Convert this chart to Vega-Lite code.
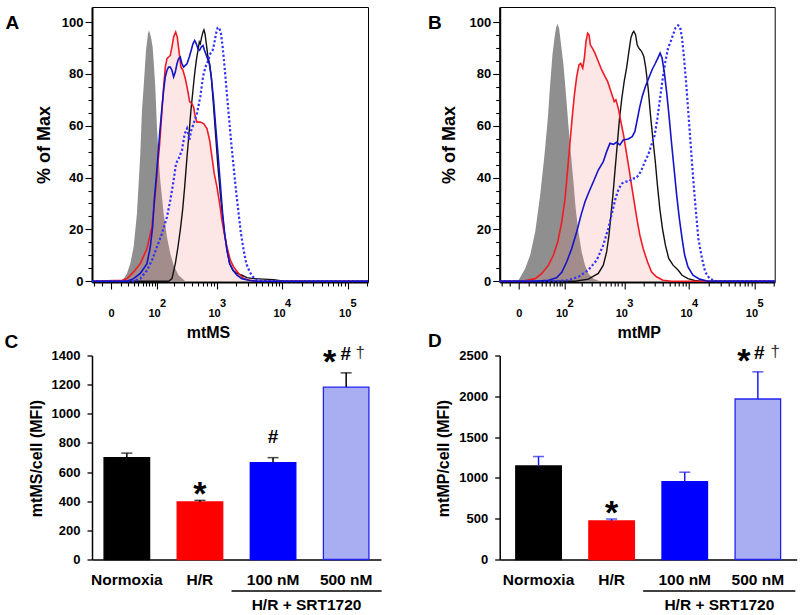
{
"$schema": "https://vega.github.io/schema/vega-lite/v6.json",
"background": "white",
"padding": {"left": 4, "top": 6, "right": 4, "bottom": 3},
"config": {
  "font": "Liberation Sans",
  "view": {"stroke": null},
  "axis": {"labelFont": "Liberation Sans", "titleFont": "Liberation Sans", "labelFontWeight": "bold", "titleFontWeight": "bold", "labelColor": "#000", "titleColor": "#000", "domainColor": "#000", "tickColor": "#000", "grid": false}
},
"columns": 2,
"bounds": "flush",
"align": "each",
"spacing": {"row": 73.5, "column": 118.7},
"datasets": {
"histA": [
{"s":"Control","x":-24,"y":0},{"s":"Control","x":9.4,"y":0},{"s":"Control","x":13.7,"y":1},{"s":"Control","x":18.5,"y":3},{"s":"Control","x":23.9,"y":6.8},{"s":"Control","x":29.9,"y":13.2},{"s":"Control","x":36.7,"y":26.1},{"s":"Control","x":44.4,"y":49.2},{"s":"Control","x":48.5,"y":65.9},{"s":"Control","x":53,"y":74.9},{"s":"Control","x":59.8,"y":89.1},{"s":"Control","x":65.8,"y":95.5},{"s":"Control","x":69.2,"y":96.8},{"s":"Control","x":75.9,"y":94.2},{"s":"Control","x":82,"y":90.4},{"s":"Control","x":85.7,"y":85.2},{"s":"Control","x":92.4,"y":74.9},{"s":"Control","x":99.5,"y":59.5},{"s":"Control","x":107,"y":47.9},{"s":"Control","x":114.9,"y":38.9},{"s":"Control","x":132.3,"y":26.1},{"s":"Control","x":151.8,"y":17.1},{"s":"Control","x":173.7,"y":10.7},{"s":"Control","x":198.3,"y":6.2},{"s":"Control","x":241,"y":2.3},{"s":"Control","x":311,"y":0},{"s":"Control","x":204000,"y":0},
{"s":"H/R","x":-24,"y":0},{"s":"H/R","x":12,"y":0.4},{"s":"H/R","x":18.5,"y":1},{"s":"H/R","x":29.9,"y":3.6},{"s":"H/R","x":44.4,"y":6.8},{"s":"H/R","x":62.7,"y":12.6},{"s":"H/R","x":79.5,"y":21},{"s":"H/R","x":92.4,"y":33.8},{"s":"H/R","x":102.5,"y":44.1},{"s":"H/R","x":111.8,"y":53.1},{"s":"H/R","x":123.5,"y":65.9},{"s":"H/R","x":132.3,"y":74.9},{"s":"H/R","x":141.8,"y":82.6},{"s":"H/R","x":151.8,"y":85.9},{"s":"H/R","x":162.5,"y":86.5},{"s":"H/R","x":173.7,"y":87.1},{"s":"H/R","x":185.7,"y":90.4},{"s":"H/R","x":198.3,"y":94.2},{"s":"H/R","x":215,"y":96.1},{"s":"H/R","x":229,"y":94.2},{"s":"H/R","x":247.5,"y":87.8},{"s":"H/R","x":264,"y":82.6},{"s":"H/R","x":285,"y":81.4},{"s":"H/R","x":312,"y":78.1},{"s":"H/R","x":340,"y":73.7},{"s":"H/R","x":367,"y":69.2},{"s":"H/R","x":400,"y":68.5},{"s":"H/R","x":425,"y":67.2},{"s":"H/R","x":453,"y":63.4},{"s":"H/R","x":481,"y":61.4},{"s":"H/R","x":544,"y":61.4},{"s":"H/R","x":615,"y":60.8},{"s":"H/R","x":694,"y":58.9},{"s":"H/R","x":765,"y":54.4},{"s":"H/R","x":833,"y":47.9},{"s":"H/R","x":903,"y":41.5},{"s":"H/R","x":996,"y":36.4},{"s":"H/R","x":1097,"y":29.9},{"s":"H/R","x":1192,"y":23.5},{"s":"H/R","x":1296,"y":18.4},{"s":"H/R","x":1425,"y":13.2},{"s":"H/R","x":1606,"y":8.1},{"s":"H/R","x":1808,"y":5.5},{"s":"H/R","x":2160,"y":3},{"s":"H/R","x":2577,"y":1},{"s":"H/R","x":3670,"y":0},{"s":"H/R","x":204000,"y":0},
{"s":"Normoxia","x":-24,"y":0},{"s":"Normoxia","x":162.5,"y":0},{"s":"Normoxia","x":185.7,"y":1},{"s":"Normoxia","x":212,"y":6.8},{"s":"Normoxia","x":235,"y":13.2},{"s":"Normoxia","x":257,"y":19.7},{"s":"Normoxia","x":281,"y":27.4},{"s":"Normoxia","x":304,"y":36.4},{"s":"Normoxia","x":332,"y":47.9},{"s":"Normoxia","x":358,"y":56.9},{"s":"Normoxia","x":385,"y":65.9},{"s":"Normoxia","x":415,"y":73.7},{"s":"Normoxia","x":442,"y":80.1},{"s":"Normoxia","x":470,"y":85.2},{"s":"Normoxia","x":500,"y":89.1},{"s":"Normoxia","x":525,"y":92.3},{"s":"Normoxia","x":544,"y":91.6},{"s":"Normoxia","x":572,"y":94.2},{"s":"Normoxia","x":600,"y":96.1},{"s":"Normoxia","x":622,"y":97},{"s":"Normoxia","x":646,"y":95.5},{"s":"Normoxia","x":678,"y":91.6},{"s":"Normoxia","x":720,"y":86.5},{"s":"Normoxia","x":765,"y":83.9},{"s":"Normoxia","x":812,"y":78.8},{"s":"Normoxia","x":883,"y":67.2},{"s":"Normoxia","x":962,"y":54.4},{"s":"Normoxia","x":1033,"y":44.1},{"s":"Normoxia","x":1123,"y":33.8},{"s":"Normoxia","x":1221,"y":24.8},{"s":"Normoxia","x":1312,"y":18.4},{"s":"Normoxia","x":1425,"y":12},{"s":"Normoxia","x":1568,"y":6.8},{"s":"Normoxia","x":1766,"y":4.2},{"s":"Normoxia","x":2035,"y":3},{"s":"Normoxia","x":2430,"y":2.3},{"s":"Normoxia","x":2900,"y":1.4},{"s":"Normoxia","x":3670,"y":1},{"s":"Normoxia","x":5222,"y":0.8},{"s":"Normoxia","x":7428,"y":0.6},{"s":"Normoxia","x":10560,"y":0},{"s":"Normoxia","x":204000,"y":0},
{"s":"100 nM","x":-24,"y":0},{"s":"100 nM","x":18.5,"y":0},{"s":"100 nM","x":29.9,"y":1},{"s":"100 nM","x":44.4,"y":3},{"s":"100 nM","x":62.7,"y":6.8},{"s":"100 nM","x":73.5,"y":13.2},{"s":"100 nM","x":82,"y":21},{"s":"100 nM","x":88.3,"y":31.2},{"s":"100 nM","x":95.3,"y":38.9},{"s":"100 nM","x":102.5,"y":46.7},{"s":"100 nM","x":111.8,"y":56.9},{"s":"100 nM","x":123.5,"y":67.2},{"s":"100 nM","x":132.3,"y":73.7},{"s":"100 nM","x":141.8,"y":78.8},{"s":"100 nM","x":151.8,"y":81.4},{"s":"100 nM","x":162.5,"y":82.6},{"s":"100 nM","x":173.7,"y":82.6},{"s":"100 nM","x":185.7,"y":81.4},{"s":"100 nM","x":198.3,"y":78.8},{"s":"100 nM","x":212,"y":80.7},{"s":"100 nM","x":226,"y":83.9},{"s":"100 nM","x":241,"y":85.9},{"s":"100 nM","x":257,"y":86.5},{"s":"100 nM","x":274,"y":83.9},{"s":"100 nM","x":292,"y":82.6},{"s":"100 nM","x":312,"y":83.3},{"s":"100 nM","x":332,"y":83.9},{"s":"100 nM","x":362,"y":86.5},{"s":"100 nM","x":389,"y":89.1},{"s":"100 nM","x":415,"y":91.6},{"s":"100 nM","x":442,"y":92.9},{"s":"100 nM","x":470,"y":91.6},{"s":"100 nM","x":500,"y":89.7},{"s":"100 nM","x":531,"y":89.1},{"s":"100 nM","x":565,"y":90.4},{"s":"100 nM","x":600,"y":91},{"s":"100 nM","x":634,"y":89.1},{"s":"100 nM","x":694,"y":86.5},{"s":"100 nM","x":756,"y":83.9},{"s":"100 nM","x":812,"y":78.8},{"s":"100 nM","x":883,"y":69.8},{"s":"100 nM","x":962,"y":58.2},{"s":"100 nM","x":1033,"y":49.2},{"s":"100 nM","x":1123,"y":37.7},{"s":"100 nM","x":1221,"y":26.1},{"s":"100 nM","x":1312,"y":18.4},{"s":"100 nM","x":1425,"y":12},{"s":"100 nM","x":1568,"y":6.8},{"s":"100 nM","x":1766,"y":4.2},{"s":"100 nM","x":2035,"y":2.3},{"s":"100 nM","x":2430,"y":1},{"s":"100 nM","x":3081,"y":0.4},{"s":"100 nM","x":4128,"y":0},{"s":"100 nM","x":204000,"y":0},
{"s":"500 nM","x":-24,"y":0},{"s":"500 nM","x":29.9,"y":0},{"s":"500 nM","x":44.4,"y":1},{"s":"500 nM","x":62.7,"y":4.2},{"s":"500 nM","x":79.5,"y":8.1},{"s":"500 nM","x":99.5,"y":13.2},{"s":"500 nM","x":123.5,"y":18.4},{"s":"500 nM","x":151.8,"y":24.8},{"s":"500 nM","x":173.7,"y":31.2},{"s":"500 nM","x":198.3,"y":38.9},{"s":"500 nM","x":217.5,"y":45.4},{"s":"500 nM","x":241,"y":47.3},{"s":"500 nM","x":274,"y":50.5},{"s":"500 nM","x":304,"y":56.9},{"s":"500 nM","x":332,"y":58.9},{"s":"500 nM","x":362,"y":54.4},{"s":"500 nM","x":389,"y":58.2},{"s":"500 nM","x":425,"y":60.8},{"s":"500 nM","x":481,"y":64.7},{"s":"500 nM","x":544,"y":71.1},{"s":"500 nM","x":600,"y":78.8},{"s":"500 nM","x":654,"y":82.6},{"s":"500 nM","x":711,"y":84.6},{"s":"500 nM","x":783,"y":87.8},{"s":"500 nM","x":853,"y":89.1},{"s":"500 nM","x":903,"y":91.6},{"s":"500 nM","x":962,"y":95.5},{"s":"500 nM","x":1021,"y":97.8},{"s":"500 nM","x":1084,"y":97.8},{"s":"500 nM","x":1150,"y":95.5},{"s":"500 nM","x":1221,"y":90.4},{"s":"500 nM","x":1296,"y":83.9},{"s":"500 nM","x":1392,"y":74.9},{"s":"500 nM","x":1513,"y":64.7},{"s":"500 nM","x":1645,"y":54.4},{"s":"500 nM","x":1808,"y":44.1},{"s":"500 nM","x":1964,"y":35.1},{"s":"500 nM","x":2158,"y":26.1},{"s":"500 nM","x":2346,"y":18.4},{"s":"500 nM","x":2577,"y":12},{"s":"500 nM","x":2832,"y":6.8},{"s":"500 nM","x":3188,"y":3.6},{"s":"500 nM","x":3585,"y":1.7},{"s":"500 nM","x":4128,"y":0.4},{"s":"500 nM","x":5222,"y":0},{"s":"500 nM","x":204000,"y":0}
],
"histB": [
{"s":"Control","x":-24,"y":0},{"s":"Control","x":-6.8,"y":0},{"s":"Control","x":0,"y":0.6},{"s":"Control","x":6.3,"y":4.9},{"s":"Control","x":12.3,"y":10.1},{"s":"Control","x":19.5,"y":19.1},{"s":"Control","x":28,"y":33.2},{"s":"Control","x":36.7,"y":48.7},{"s":"Control","x":44.4,"y":62.9},{"s":"Control","x":50.3,"y":75.8},{"s":"Control","x":56.7,"y":87.4},{"s":"Control","x":62.7,"y":93.8},{"s":"Control","x":67.9,"y":97.9},{"s":"Control","x":72.4,"y":99.2},{"s":"Control","x":78.2,"y":97.7},{"s":"Control","x":85.7,"y":91.2},{"s":"Control","x":95.3,"y":83.5},{"s":"Control","x":105.5,"y":73.2},{"s":"Control","x":118,"y":60.3},{"s":"Control","x":130.5,"y":50},{"s":"Control","x":146,"y":38.4},{"s":"Control","x":160,"y":28.1},{"s":"Control","x":178.5,"y":19.1},{"s":"Control","x":203.5,"y":11.3},{"s":"Control","x":232,"y":6.2},{"s":"Control","x":264,"y":3},{"s":"Control","x":320,"y":1},{"s":"Control","x":411,"y":0},{"s":"Control","x":204000,"y":0},
{"s":"H/R","x":-24,"y":0},{"s":"H/R","x":2.9,"y":0},{"s":"H/R","x":19.5,"y":1},{"s":"H/R","x":31.2,"y":3},{"s":"H/R","x":46,"y":6.2},{"s":"H/R","x":59.6,"y":10.1},{"s":"H/R","x":73.5,"y":15.2},{"s":"H/R","x":88.3,"y":22.9},{"s":"H/R","x":102.5,"y":32},{"s":"H/R","x":114.9,"y":43.6},{"s":"H/R","x":127,"y":53.9},{"s":"H/R","x":140,"y":64.2},{"s":"H/R","x":151.8,"y":71.9},{"s":"H/R","x":167,"y":79},{"s":"H/R","x":183,"y":83.5},{"s":"H/R","x":195.7,"y":84.1},{"s":"H/R","x":212,"y":82.2},{"s":"H/R","x":226,"y":86.1},{"s":"H/R","x":241,"y":92.5},{"s":"H/R","x":257,"y":95.7},{"s":"H/R","x":271,"y":95.1},{"s":"H/R","x":285,"y":91.2},{"s":"H/R","x":308,"y":89.9},{"s":"H/R","x":340,"y":88},{"s":"H/R","x":385,"y":84.8},{"s":"H/R","x":436,"y":81.6},{"s":"H/R","x":493,"y":79},{"s":"H/R","x":544,"y":77.1},{"s":"H/R","x":615,"y":73.2},{"s":"H/R","x":694,"y":69.3},{"s":"H/R","x":737,"y":70},{"s":"H/R","x":803,"y":66.8},{"s":"H/R","x":883,"y":61.6},{"s":"H/R","x":973,"y":56.4},{"s":"H/R","x":1072,"y":50},{"s":"H/R","x":1180,"y":43.6},{"s":"H/R","x":1296,"y":37.1},{"s":"H/R","x":1425,"y":30.7},{"s":"H/R","x":1568,"y":24.2},{"s":"H/R","x":1744,"y":17.8},{"s":"H/R","x":1964,"y":12.6},{"s":"H/R","x":2290,"y":7.5},{"s":"H/R","x":2640,"y":3.6},{"s":"H/R","x":3146,"y":1.7},{"s":"H/R","x":3985,"y":0.4},{"s":"H/R","x":5350,"y":0},{"s":"H/R","x":204000,"y":0},
{"s":"Normoxia","x":-24,"y":0},{"s":"Normoxia","x":156,"y":0},{"s":"Normoxia","x":264,"y":0.8},{"s":"Normoxia","x":385,"y":3},{"s":"Normoxia","x":464,"y":6.2},{"s":"Normoxia","x":525,"y":11.3},{"s":"Normoxia","x":572,"y":17.8},{"s":"Normoxia","x":615,"y":25.5},{"s":"Normoxia","x":661,"y":33.2},{"s":"Normoxia","x":711,"y":42.3},{"s":"Normoxia","x":774,"y":52.6},{"s":"Normoxia","x":842,"y":62.9},{"s":"Normoxia","x":914,"y":70.6},{"s":"Normoxia","x":996,"y":77.1},{"s":"Normoxia","x":1084,"y":82.2},{"s":"Normoxia","x":1180,"y":88.7},{"s":"Normoxia","x":1265,"y":93.8},{"s":"Normoxia","x":1343,"y":95.7},{"s":"Normoxia","x":1408,"y":96.4},{"s":"Normoxia","x":1497,"y":95.1},{"s":"Normoxia","x":1587,"y":91.2},{"s":"Normoxia","x":1685,"y":89.9},{"s":"Normoxia","x":1852,"y":88.7},{"s":"Normoxia","x":2012,"y":86.7},{"s":"Normoxia","x":2158,"y":82.2},{"s":"Normoxia","x":2346,"y":74.5},{"s":"Normoxia","x":2548,"y":64.2},{"s":"Normoxia","x":2768,"y":55.2},{"s":"Normoxia","x":3027,"y":46.1},{"s":"Normoxia","x":3262,"y":37.1},{"s":"Normoxia","x":3546,"y":28.1},{"s":"Normoxia","x":3895,"y":20.4},{"s":"Normoxia","x":4328,"y":13.9},{"s":"Normoxia","x":4870,"y":8.8},{"s":"Normoxia","x":5675,"y":6.2},{"s":"Normoxia","x":6770,"y":4.3},{"s":"Normoxia","x":7800,"y":2.3},{"s":"Normoxia","x":9620,"y":1},{"s":"Normoxia","x":12150,"y":0.3},{"s":"Normoxia","x":15380,"y":0},{"s":"Normoxia","x":204000,"y":0},
{"s":"100 nM","x":-24,"y":0},{"s":"100 nM","x":19.5,"y":0},{"s":"100 nM","x":46,"y":0.4},{"s":"100 nM","x":69.2,"y":1.3},{"s":"100 nM","x":88.3,"y":3.4},{"s":"100 nM","x":110,"y":7.5},{"s":"100 nM","x":136,"y":12.6},{"s":"100 nM","x":167,"y":19.1},{"s":"100 nM","x":198.3,"y":25.5},{"s":"100 nM","x":232,"y":30.7},{"s":"100 nM","x":271,"y":34.5},{"s":"100 nM","x":320,"y":38.4},{"s":"100 nM","x":385,"y":42.9},{"s":"100 nM","x":464,"y":46.1},{"s":"100 nM","x":525,"y":50},{"s":"100 nM","x":593,"y":53.2},{"s":"100 nM","x":670,"y":52.8},{"s":"100 nM","x":756,"y":53.6},{"s":"100 nM","x":852,"y":52.6},{"s":"100 nM","x":962,"y":54.5},{"s":"100 nM","x":1150,"y":54.9},{"s":"100 nM","x":1327,"y":55.8},{"s":"100 nM","x":1460,"y":57.7},{"s":"100 nM","x":1587,"y":62.2},{"s":"100 nM","x":1725,"y":66.8},{"s":"100 nM","x":1900,"y":71.3},{"s":"100 nM","x":2130,"y":75.1},{"s":"100 nM","x":2400,"y":78.4},{"s":"100 nM","x":2700,"y":81.6},{"s":"100 nM","x":3035,"y":84.1},{"s":"100 nM","x":3340,"y":86.3},{"s":"100 nM","x":3585,"y":88},{"s":"100 nM","x":3850,"y":86.1},{"s":"100 nM","x":4178,"y":80.3},{"s":"100 nM","x":4540,"y":72.6},{"s":"100 nM","x":4935,"y":63.5},{"s":"100 nM","x":5350,"y":53.9},{"s":"100 nM","x":5873,"y":43.6},{"s":"100 nM","x":6450,"y":33.2},{"s":"100 nM","x":7085,"y":24.2},{"s":"100 nM","x":7800,"y":16.5},{"s":"100 nM","x":8540,"y":10.1},{"s":"100 nM","x":9620,"y":5.5},{"s":"100 nM","x":11450,"y":2.3},{"s":"100 nM","x":14470,"y":0.8},{"s":"100 nM","x":19400,"y":0},{"s":"100 nM","x":204000,"y":0},
{"s":"500 nM","x":-24,"y":0},{"s":"500 nM","x":64.8,"y":0},{"s":"500 nM","x":118,"y":0.4},{"s":"500 nM","x":178.5,"y":1.7},{"s":"500 nM","x":264,"y":4.3},{"s":"500 nM","x":362,"y":8.1},{"s":"500 nM","x":464,"y":13.9},{"s":"500 nM","x":558,"y":20.4},{"s":"500 nM","x":646,"y":26.8},{"s":"500 nM","x":728,"y":32},{"s":"500 nM","x":822,"y":35.8},{"s":"500 nM","x":928,"y":37.8},{"s":"500 nM","x":1047,"y":38.4},{"s":"500 nM","x":1180,"y":38.4},{"s":"500 nM","x":1327,"y":39.7},{"s":"500 nM","x":1497,"y":39.7},{"s":"500 nM","x":1685,"y":41},{"s":"500 nM","x":1852,"y":42.9},{"s":"500 nM","x":2085,"y":46.1},{"s":"500 nM","x":2346,"y":48.7},{"s":"500 nM","x":2640,"y":52.6},{"s":"500 nM","x":2966,"y":56.4},{"s":"500 nM","x":3262,"y":62.9},{"s":"500 nM","x":3585,"y":70.6},{"s":"500 nM","x":3940,"y":78.4},{"s":"500 nM","x":4328,"y":84.8},{"s":"500 nM","x":4750,"y":89.9},{"s":"500 nM","x":5222,"y":92.5},{"s":"500 nM","x":5675,"y":95.1},{"s":"500 nM","x":6170,"y":97.7},{"s":"500 nM","x":6770,"y":98.7},{"s":"500 nM","x":7250,"y":98.3},{"s":"500 nM","x":7800,"y":93.8},{"s":"500 nM","x":8353,"y":86.1},{"s":"500 nM","x":8976,"y":77.1},{"s":"500 nM","x":9620,"y":66.8},{"s":"500 nM","x":10320,"y":56.4},{"s":"500 nM","x":11040,"y":46.1},{"s":"500 nM","x":11870,"y":35.8},{"s":"500 nM","x":12880,"y":25.5},{"s":"500 nM","x":13850,"y":16.5},{"s":"500 nM","x":15750,"y":8.8},{"s":"500 nM","x":17620,"y":3.6},{"s":"500 nM","x":20600,"y":1},{"s":"500 nM","x":26200,"y":0},{"s":"500 nM","x":204000,"y":0}
],
"barsC": [
{"group":"Normoxia","mean":699,"upper":730,"sig":""},
{"group":"H/R","mean":395,"upper":406,"sig":"*"},
{"group":"100 nM","mean":665,"upper":699,"sig":"#"},
{"group":"500 nM","mean":1183,"upper":1281,"sig":"*#†"}
],
"barsD": [
{"group":"Normoxia","mean":1147,"upper":1262,"sig":""},
{"group":"H/R","mean":472,"upper":496,"sig":"*"},
{"group":"100 nM","mean":954,"upper":1070,"sig":""},
{"group":"500 nM","mean":1967,"upper":2300,"sig":"*#†"}
]
},
"concat": [
{
  "width": 276, "height": 275,
  "view": {"stroke": "#000", "strokeWidth": 1},
  "data": {"name": "histA"},
  "layer": [
    {"transform": [{"filter": "datum.s === 'Control'"}], "mark": {"type": "area", "color": "#8f8f8f"},
     "encoding": {
       "x": {"field": "x", "type": "quantitative", "scale": {"type": "symlog", "constant": 25, "domain": [-24, 204000], "nice": false, "zero": false},
             "axis": {"orient": "bottom", "values": [-20,-10,0,10,20,30,40,50,60,70,80,90,100,200,300,400,500,600,700,800,900,1000,2000,3000,4000,5000,6000,7000,8000,9000,10000,20000,30000,40000,50000,60000,70000,80000,90000,100000,200000], "labelExpr": "datum.value === 0 ? '0' : (indexof([100, 1000, 10000, 100000], datum.value) >= 0 ? '10' : '')", "labelFontSize": 11, "labelBaseline": "top", "labelPadding": 18.7, "labelOffset": {"condition": {"test": "datum.value === 0", "value": 0}, "value": -3}, "labelFlush": false, "labelOverlap": false, "tickSize": {"condition": {"test": "indexof([0, 100, 1000, 10000, 100000], datum.value) >= 0", "value": 7}, "value": 4}, "tickWidth": 1.1, "domainWidth": 2, "title": "mtMS", "titleFontSize": 16, "titleX": 116, "titleY": 55, "titleBaseline": "alphabetic"}},
       "y": {"field": "y", "type": "quantitative", "scale": {"domain": [-0.3, 105.8], "nice": false, "zero": false},
             "axis": {"orient": "left", "values": [0,5,10,15,20,25,30,35,40,45,50,55,60,65,70,75,80,85,90,95,100], "labelExpr": "datum.value % 20 === 0 ? datum.label : ''", "labelFontSize": 13, "labelPadding": 2, "labelFlush": false, "labelOverlap": false, "tickSize": {"condition": {"test": "datum.value % 20 === 0", "value": 7}, "value": 4}, "tickWidth": 1.1, "domainWidth": 2, "title": "% of Max", "titleFontSize": 18, "titleX": -42.5, "titleY": 137.5, "titleBaseline": "alphabetic", "titleAngle": 270}}
     }},
    {"transform": [{"filter": "datum.s === 'H/R'"}], "mark": {"type": "area", "color": "#f08080", "opacity": 0.2},
     "encoding": {
       "x": {"field": "x", "type": "quantitative", "scale": {"type": "symlog", "constant": 25, "domain": [-24, 204000], "nice": false, "zero": false},
             "axis": {"orient": "bottom", "values": [100, 1000, 10000, 100000], "labelExpr": "'' + round(log(datum.value) / LN10)", "labelFontSize": 11, "labelBaseline": "top", "labelPadding": 15.7, "labelOffset": 5.5, "labelFlush": false, "labelOverlap": false, "ticks": false, "tickSize": 0, "domain": false, "title": null}},
       "y": {"field": "y", "type": "quantitative", "scale": {"domain": [-0.3, 105.8], "nice": false, "zero": false}, "axis": null}
     }},
    {"transform": [{"filter": "datum.s === 'Normoxia'"}], "mark": {"type": "line", "color": "#111111", "strokeWidth": 1.4},
     "encoding": {"x": {"field": "x", "type": "quantitative", "scale": {"type": "symlog", "constant": 25, "domain": [-24, 204000], "nice": false, "zero": false}, "axis": null}, "y": {"field": "y", "type": "quantitative", "scale": {"domain": [-0.3, 105.8], "nice": false, "zero": false}, "axis": null}}},
    {"transform": [{"filter": "datum.s === 'H/R'"}], "mark": {"type": "line", "color": "#ee1c25", "strokeWidth": 1.6},
     "encoding": {"x": {"field": "x", "type": "quantitative", "scale": {"type": "symlog", "constant": 25, "domain": [-24, 204000], "nice": false, "zero": false}, "axis": null}, "y": {"field": "y", "type": "quantitative", "scale": {"domain": [-0.3, 105.8], "nice": false, "zero": false}, "axis": null}}},
    {"transform": [{"filter": "datum.s === '500 nM'"}], "mark": {"type": "line", "color": "#3030ff", "strokeWidth": 2.2, "strokeDash": [2.2, 2.2]},
     "encoding": {"x": {"field": "x", "type": "quantitative", "scale": {"type": "symlog", "constant": 25, "domain": [-24, 204000], "nice": false, "zero": false}, "axis": null}, "y": {"field": "y", "type": "quantitative", "scale": {"domain": [-0.3, 105.8], "nice": false, "zero": false}, "axis": null}}},
    {"transform": [{"filter": "datum.s === '100 nM'"}], "mark": {"type": "line", "color": "#1414c8", "strokeWidth": 1.6},
     "encoding": {"x": {"field": "x", "type": "quantitative", "scale": {"type": "symlog", "constant": 25, "domain": [-24, 204000], "nice": false, "zero": false}, "axis": null}, "y": {"field": "y", "type": "quantitative", "scale": {"domain": [-0.3, 105.8], "nice": false, "zero": false}, "axis": null}}},
    {"data": {"values": [{"label": "A"}]}, "mark": {"type": "text", "align": "left", "baseline": "alphabetic", "fontSize": 19, "fontWeight": "bold", "dx": -86.5, "dy": 21.5, "color": "#000"},
     "encoding": {"x": {"datum": -24, "type": "quantitative", "scale": {"type": "symlog", "constant": 25, "domain": [-24, 204000], "nice": false, "zero": false}, "axis": null}, "y": {"datum": 105.8, "type": "quantitative", "scale": {"domain": [-0.3, 105.8], "nice": false, "zero": false}, "axis": null}, "text": {"field": "label"}}}
  ],
  "resolve": {"axis": {"x": "independent", "y": "independent"}}
},
{
  "width": 275, "height": 275,
  "view": {"stroke": "#000", "strokeWidth": 1},
  "data": {"name": "histB"},
  "layer": [
    {"transform": [{"filter": "datum.s === 'Control'"}], "mark": {"type": "area", "color": "#8f8f8f"},
     "encoding": {
       "x": {"field": "x", "type": "quantitative", "scale": {"type": "symlog", "constant": 25, "domain": [-24, 204000], "nice": false, "zero": false},
             "axis": {"orient": "bottom", "values": [-20,-10,0,10,20,30,40,50,60,70,80,90,100,200,300,400,500,600,700,800,900,1000,2000,3000,4000,5000,6000,7000,8000,9000,10000,20000,30000,40000,50000,60000,70000,80000,90000,100000,200000], "labelExpr": "datum.value === 0 ? '0' : (indexof([100, 1000, 10000, 100000], datum.value) >= 0 ? '10' : '')", "labelFontSize": 11, "labelBaseline": "top", "labelPadding": 18.7, "labelOffset": {"condition": {"test": "datum.value === 0", "value": 0}, "value": -3}, "labelFlush": false, "labelOverlap": false, "tickSize": {"condition": {"test": "indexof([0, 100, 1000, 10000, 100000], datum.value) >= 0", "value": 7}, "value": 4}, "tickWidth": 1.1, "domainWidth": 2, "title": "mtMP", "titleFontSize": 16, "titleX": 139, "titleY": 55, "titleBaseline": "alphabetic"}},
       "y": {"field": "y", "type": "quantitative", "scale": {"domain": [-0.3, 105.8], "nice": false, "zero": false},
             "axis": {"orient": "left", "values": [0,5,10,15,20,25,30,35,40,45,50,55,60,65,70,75,80,85,90,95,100], "labelExpr": "datum.value % 20 === 0 ? datum.label : ''", "labelFontSize": 13, "labelPadding": 2, "labelFlush": false, "labelOverlap": false, "tickSize": {"condition": {"test": "datum.value % 20 === 0", "value": 7}, "value": 4}, "tickWidth": 1.1, "domainWidth": 2, "title": "% of Max", "titleFontSize": 18, "titleX": -45, "titleY": 137.5, "titleBaseline": "alphabetic", "titleAngle": 270}}
     }},
    {"transform": [{"filter": "datum.s === 'H/R'"}], "mark": {"type": "area", "color": "#f08080", "opacity": 0.2},
     "encoding": {
       "x": {"field": "x", "type": "quantitative", "scale": {"type": "symlog", "constant": 25, "domain": [-24, 204000], "nice": false, "zero": false},
             "axis": {"orient": "bottom", "values": [100, 1000, 10000, 100000], "labelExpr": "'' + round(log(datum.value) / LN10)", "labelFontSize": 11, "labelBaseline": "top", "labelPadding": 15.7, "labelOffset": 5.5, "labelFlush": false, "labelOverlap": false, "ticks": false, "tickSize": 0, "domain": false, "title": null}},
       "y": {"field": "y", "type": "quantitative", "scale": {"domain": [-0.3, 105.8], "nice": false, "zero": false}, "axis": null}
     }},
    {"transform": [{"filter": "datum.s === 'Normoxia'"}], "mark": {"type": "line", "color": "#111111", "strokeWidth": 1.4},
     "encoding": {"x": {"field": "x", "type": "quantitative", "scale": {"type": "symlog", "constant": 25, "domain": [-24, 204000], "nice": false, "zero": false}, "axis": null}, "y": {"field": "y", "type": "quantitative", "scale": {"domain": [-0.3, 105.8], "nice": false, "zero": false}, "axis": null}}},
    {"transform": [{"filter": "datum.s === 'H/R'"}], "mark": {"type": "line", "color": "#ee1c25", "strokeWidth": 1.6},
     "encoding": {"x": {"field": "x", "type": "quantitative", "scale": {"type": "symlog", "constant": 25, "domain": [-24, 204000], "nice": false, "zero": false}, "axis": null}, "y": {"field": "y", "type": "quantitative", "scale": {"domain": [-0.3, 105.8], "nice": false, "zero": false}, "axis": null}}},
    {"transform": [{"filter": "datum.s === '500 nM'"}], "mark": {"type": "line", "color": "#3030ff", "strokeWidth": 2.2, "strokeDash": [2.2, 2.2]},
     "encoding": {"x": {"field": "x", "type": "quantitative", "scale": {"type": "symlog", "constant": 25, "domain": [-24, 204000], "nice": false, "zero": false}, "axis": null}, "y": {"field": "y", "type": "quantitative", "scale": {"domain": [-0.3, 105.8], "nice": false, "zero": false}, "axis": null}}},
    {"transform": [{"filter": "datum.s === '100 nM'"}], "mark": {"type": "line", "color": "#1414c8", "strokeWidth": 1.6},
     "encoding": {"x": {"field": "x", "type": "quantitative", "scale": {"type": "symlog", "constant": 25, "domain": [-24, 204000], "nice": false, "zero": false}, "axis": null}, "y": {"field": "y", "type": "quantitative", "scale": {"domain": [-0.3, 105.8], "nice": false, "zero": false}, "axis": null}}},
    {"data": {"values": [{"label": "B"}]}, "mark": {"type": "text", "align": "left", "baseline": "alphabetic", "fontSize": 19, "fontWeight": "bold", "dx": -71.6, "dy": 21.5, "color": "#000"},
     "encoding": {"x": {"datum": -24, "type": "quantitative", "scale": {"type": "symlog", "constant": 25, "domain": [-24, 204000], "nice": false, "zero": false}, "axis": null}, "y": {"datum": 105.8, "type": "quantitative", "scale": {"domain": [-0.3, 105.8], "nice": false, "zero": false}, "axis": null}, "text": {"field": "label"}}}
  ],
  "resolve": {"axis": {"x": "independent", "y": "independent"}}
},
{
  "width": 289, "height": 204,
  "data": {"name": "barsC"},
  "layer": [
    {"mark": {"type": "bar", "strokeWidth": 1.3},
     "encoding": {
       "x": {"field": "group", "type": "nominal", "sort": null, "scale": {"domain": ["Normoxia", "H/R", "100 nM", "500 nM"], "paddingInner": 0.377, "paddingOuter": 0.165},
             "axis": {"orient": "bottom", "title": null, "ticks": false, "tickSize": 0, "labelAngle": 0, "labelFontSize": 15.5, "labelPadding": 13, "labelBaseline": "top", "labelOverlap": false, "domainWidth": 1.5}},
       "y": {"field": "mean", "type": "quantitative", "scale": {"domain": [0, 1400], "nice": false},
             "axis": {"orient": "left", "values": [0, 200, 400, 600, 800, 1000, 1200, 1400], "format": "d", "tickSize": 5, "tickWidth": 1.3, "labelFontSize": 13, "labelPadding": 7, "domainWidth": 1.5, "title": "mtMS/cell (MFI)", "titleFontSize": 16, "titleX": -50.8, "titleY": 102.5, "titleBaseline": "alphabetic", "titleAngle": 270}},
       "fill": {"field": "group", "type": "nominal", "scale": {"domain": ["Normoxia", "H/R", "100 nM", "500 nM"], "range": ["#000000", "#ff0000", "#0000ff", "#a9aef2"]}, "legend": null},
       "stroke": {"field": "group", "type": "nominal", "scale": {"domain": ["Normoxia", "H/R", "100 nM", "500 nM"], "range": ["#000000", "#ff0000", "#0000ff", "#2323f0"]}, "legend": null}
     }},
    {"mark": {"type": "rule", "color": "#000000", "strokeWidth": 1.5},
     "encoding": {"x": {"field": "group", "type": "nominal", "sort": null, "scale": {"domain": ["Normoxia", "H/R", "100 nM", "500 nM"], "paddingInner": 0.377, "paddingOuter": 0.165}, "axis": null},
                  "y": {"field": "mean", "type": "quantitative", "scale": {"domain": [0, 1400], "nice": false}, "axis": null}, "y2": {"field": "upper"}}},
    {"mark": {"type": "tick", "color": "#000000", "thickness": 1.5, "size": 11},
     "encoding": {"x": {"field": "group", "type": "nominal", "sort": null, "scale": {"domain": ["Normoxia", "H/R", "100 nM", "500 nM"], "paddingInner": 0.377, "paddingOuter": 0.165}, "axis": null},
                  "y": {"field": "upper", "type": "quantitative", "scale": {"domain": [0, 1400], "nice": false}, "axis": null}}},
    {"transform": [{"filter": "datum.sig === '*'"}], "mark": {"type": "text", "fontSize": 34, "fontWeight": "bold", "baseline": "alphabetic", "dy": 5, "color": "#000"},
     "encoding": {"x": {"field": "group", "type": "nominal", "sort": null, "scale": {"domain": ["Normoxia", "H/R", "100 nM", "500 nM"], "paddingInner": 0.377, "paddingOuter": 0.165}, "axis": null},
                  "y": {"field": "upper", "type": "quantitative", "scale": {"domain": [0, 1400], "nice": false}, "axis": null}, "text": {"field": "sig"}}},
    {"transform": [{"filter": "datum.sig === '#'"}], "mark": {"type": "text", "fontSize": 19, "fontWeight": "bold", "baseline": "alphabetic", "dy": -15, "color": "#000"},
     "encoding": {"x": {"field": "group", "type": "nominal", "sort": null, "scale": {"domain": ["Normoxia", "H/R", "100 nM", "500 nM"], "paddingInner": 0.377, "paddingOuter": 0.165}, "axis": null},
                  "y": {"field": "upper", "type": "quantitative", "scale": {"domain": [0, 1400], "nice": false}, "axis": null}, "text": {"field": "sig"}}},
    {"transform": [{"filter": "datum.sig === '*#†'"}], "mark": {"type": "text", "fontSize": 34, "fontWeight": "bold", "baseline": "alphabetic", "dx": -16.5, "dy": 0, "color": "#000"},
     "encoding": {"x": {"field": "group", "type": "nominal", "sort": null, "scale": {"domain": ["Normoxia", "H/R", "100 nM", "500 nM"], "paddingInner": 0.377, "paddingOuter": 0.165}, "axis": null},
                  "y": {"field": "upper", "type": "quantitative", "scale": {"domain": [0, 1400], "nice": false}, "axis": null}, "text": {"value": "*"}}},
    {"transform": [{"filter": "datum.sig === '*#†'"}], "mark": {"type": "text", "fontSize": 19, "fontWeight": "bold", "baseline": "alphabetic", "dx": -0.5, "dy": -13, "color": "#000"},
     "encoding": {"x": {"field": "group", "type": "nominal", "sort": null, "scale": {"domain": ["Normoxia", "H/R", "100 nM", "500 nM"], "paddingInner": 0.377, "paddingOuter": 0.165}, "axis": null},
                  "y": {"field": "upper", "type": "quantitative", "scale": {"domain": [0, 1400], "nice": false}, "axis": null}, "text": {"value": "#"}}},
    {"transform": [{"filter": "datum.sig === '*#†'"}], "mark": {"type": "text", "fontSize": 17, "fontWeight": "normal", "baseline": "alphabetic", "dx": 14, "dy": -15, "color": "#333"},
     "encoding": {"x": {"field": "group", "type": "nominal", "sort": null, "scale": {"domain": ["Normoxia", "H/R", "100 nM", "500 nM"], "paddingInner": 0.377, "paddingOuter": 0.165}, "axis": null},
                  "y": {"field": "upper", "type": "quantitative", "scale": {"domain": [0, 1400], "nice": false}, "axis": null}, "text": {"value": "†"}}},
    {"data": {"values": [{"label": "H/R + SRT1720"}]},
     "mark": {"type": "rule", "color": "#000", "strokeWidth": 1.3, "xOffset": -41.5, "x2Offset": 35.5, "yOffset": 31.5, "y2Offset": 31.5},
     "encoding": {"x": {"datum": "100 nM", "type": "nominal", "scale": {"domain": ["Normoxia", "H/R", "100 nM", "500 nM"], "paddingInner": 0.377, "paddingOuter": 0.165}, "axis": null}, "x2": {"datum": "500 nM"}, "y": {"datum": 0, "type": "quantitative", "scale": {"domain": [0, 1400], "nice": false}, "axis": null}}},
    {"data": {"values": [{"label": "H/R + SRT1720"}]},
     "mark": {"type": "text", "fontSize": 15.5, "fontWeight": "bold", "dx": -39.6, "dy": 45, "baseline": "middle", "color": "#000"},
     "encoding": {"x": {"datum": "500 nM", "type": "nominal", "scale": {"domain": ["Normoxia", "H/R", "100 nM", "500 nM"], "paddingInner": 0.377, "paddingOuter": 0.165}, "axis": null}, "y": {"datum": 0, "type": "quantitative", "scale": {"domain": [0, 1400], "nice": false}, "axis": null}, "text": {"field": "label"}}},
    {"data": {"values": [{"label": "C"}]},
     "mark": {"type": "text", "align": "left", "baseline": "alphabetic", "fontSize": 19, "fontWeight": "bold", "dx": -122.3, "dy": -8, "color": "#000"},
     "encoding": {"x": {"datum": "Normoxia", "type": "nominal", "scale": {"domain": ["Normoxia", "H/R", "100 nM", "500 nM"], "paddingInner": 0.377, "paddingOuter": 0.165}, "axis": null}, "y": {"datum": 1400, "type": "quantitative", "scale": {"domain": [0, 1400], "nice": false}, "axis": null}, "text": {"field": "label"}}}
  ],
  "resolve": {"axis": {"x": "independent", "y": "independent"}}
},
{
  "width": 297, "height": 204,
  "data": {"name": "barsD"},
  "layer": [
    {"mark": {"type": "bar", "strokeWidth": 1.3},
     "encoding": {
       "x": {"field": "group", "type": "nominal", "sort": null, "scale": {"domain": ["Normoxia", "H/R", "100 nM", "500 nM"], "paddingInner": 0.377, "paddingOuter": 0.22},
             "axis": {"orient": "bottom", "title": null, "ticks": false, "tickSize": 0, "labelAngle": 0, "labelFontSize": 15.5, "labelPadding": 13, "labelBaseline": "top", "labelOverlap": false, "domainWidth": 1.5}},
       "y": {"field": "mean", "type": "quantitative", "scale": {"domain": [0, 2500], "nice": false},
             "axis": {"orient": "left", "values": [0, 500, 1000, 1500, 2000, 2500], "format": "d", "tickSize": 5, "tickWidth": 1.3, "labelFontSize": 13, "labelPadding": 7, "domainWidth": 1.5, "title": "mtMP/cell (MFI)", "titleFontSize": 16, "titleX": -50.8, "titleY": 102.5, "titleBaseline": "alphabetic", "titleAngle": 270}},
       "fill": {"field": "group", "type": "nominal", "scale": {"domain": ["Normoxia", "H/R", "100 nM", "500 nM"], "range": ["#000000", "#ff0000", "#0000ff", "#a9aef2"]}, "legend": null},
       "stroke": {"field": "group", "type": "nominal", "scale": {"domain": ["Normoxia", "H/R", "100 nM", "500 nM"], "range": ["#000000", "#000000", "#000000", "#2323f0"]}, "legend": null}
     }},
    {"mark": {"type": "rule", "color": "#1a1aff", "strokeWidth": 1.5},
     "encoding": {"x": {"field": "group", "type": "nominal", "sort": null, "scale": {"domain": ["Normoxia", "H/R", "100 nM", "500 nM"], "paddingInner": 0.377, "paddingOuter": 0.22}, "axis": null},
                  "y": {"field": "mean", "type": "quantitative", "scale": {"domain": [0, 2500], "nice": false}, "axis": null}, "y2": {"field": "upper"}}},
    {"mark": {"type": "tick", "color": "#1a1aff", "thickness": 1.5, "size": 11},
     "encoding": {"x": {"field": "group", "type": "nominal", "sort": null, "scale": {"domain": ["Normoxia", "H/R", "100 nM", "500 nM"], "paddingInner": 0.377, "paddingOuter": 0.22}, "axis": null},
                  "y": {"field": "upper", "type": "quantitative", "scale": {"domain": [0, 2500], "nice": false}, "axis": null}}},
    {"transform": [{"filter": "datum.sig === '*'"}], "mark": {"type": "text", "fontSize": 34, "fontWeight": "bold", "baseline": "alphabetic", "dy": 5, "color": "#000"},
     "encoding": {"x": {"field": "group", "type": "nominal", "sort": null, "scale": {"domain": ["Normoxia", "H/R", "100 nM", "500 nM"], "paddingInner": 0.377, "paddingOuter": 0.22}, "axis": null},
                  "y": {"field": "upper", "type": "quantitative", "scale": {"domain": [0, 2500], "nice": false}, "axis": null}, "text": {"field": "sig"}}},
    {"transform": [{"filter": "datum.sig === '*#†'"}], "mark": {"type": "text", "fontSize": 34, "fontWeight": "bold", "baseline": "alphabetic", "dx": -14, "dy": 0, "color": "#000"},
     "encoding": {"x": {"field": "group", "type": "nominal", "sort": null, "scale": {"domain": ["Normoxia", "H/R", "100 nM", "500 nM"], "paddingInner": 0.377, "paddingOuter": 0.22}, "axis": null},
                  "y": {"field": "upper", "type": "quantitative", "scale": {"domain": [0, 2500], "nice": false}, "axis": null}, "text": {"value": "*"}}},
    {"transform": [{"filter": "datum.sig === '*#†'"}], "mark": {"type": "text", "fontSize": 19, "fontWeight": "bold", "baseline": "alphabetic", "dx": 1.5, "dy": -13, "color": "#000"},
     "encoding": {"x": {"field": "group", "type": "nominal", "sort": null, "scale": {"domain": ["Normoxia", "H/R", "100 nM", "500 nM"], "paddingInner": 0.377, "paddingOuter": 0.22}, "axis": null},
                  "y": {"field": "upper", "type": "quantitative", "scale": {"domain": [0, 2500], "nice": false}, "axis": null}, "text": {"value": "#"}}},
    {"transform": [{"filter": "datum.sig === '*#†'"}], "mark": {"type": "text", "fontSize": 17, "fontWeight": "normal", "baseline": "alphabetic", "dx": 17.5, "dy": -15, "color": "#333"},
     "encoding": {"x": {"field": "group", "type": "nominal", "sort": null, "scale": {"domain": ["Normoxia", "H/R", "100 nM", "500 nM"], "paddingInner": 0.377, "paddingOuter": 0.22}, "axis": null},
                  "y": {"field": "upper", "type": "quantitative", "scale": {"domain": [0, 2500], "nice": false}, "axis": null}, "text": {"value": "†"}}},
    {"data": {"values": [{"label": "H/R + SRT1720"}]},
     "mark": {"type": "rule", "color": "#000", "strokeWidth": 1.3, "xOffset": -41.6, "x2Offset": 37.5, "yOffset": 31.5, "y2Offset": 31.5},
     "encoding": {"x": {"datum": "100 nM", "type": "nominal", "scale": {"domain": ["Normoxia", "H/R", "100 nM", "500 nM"], "paddingInner": 0.377, "paddingOuter": 0.22}, "axis": null}, "x2": {"datum": "500 nM"}, "y": {"datum": 0, "type": "quantitative", "scale": {"domain": [0, 2500], "nice": false}, "axis": null}}},
    {"data": {"values": [{"label": "H/R + SRT1720"}]},
     "mark": {"type": "text", "fontSize": 15.5, "fontWeight": "bold", "dx": -38.5, "dy": 45, "baseline": "middle", "color": "#000"},
     "encoding": {"x": {"datum": "500 nM", "type": "nominal", "scale": {"domain": ["Normoxia", "H/R", "100 nM", "500 nM"], "paddingInner": 0.377, "paddingOuter": 0.22}, "axis": null}, "y": {"datum": 0, "type": "quantitative", "scale": {"domain": [0, 2500], "nice": false}, "axis": null}, "text": {"field": "label"}}},
    {"data": {"values": [{"label": "D"}]},
     "mark": {"type": "text", "align": "left", "baseline": "alphabetic", "fontSize": 19, "fontWeight": "bold", "dx": -110.5, "dy": -9, "color": "#000"},
     "encoding": {"x": {"datum": "Normoxia", "type": "nominal", "scale": {"domain": ["Normoxia", "H/R", "100 nM", "500 nM"], "paddingInner": 0.377, "paddingOuter": 0.22}, "axis": null}, "y": {"datum": 2500, "type": "quantitative", "scale": {"domain": [0, 2500], "nice": false}, "axis": null}, "text": {"field": "label"}}}
  ],
  "resolve": {"axis": {"x": "independent", "y": "independent"}}
}
]
}
